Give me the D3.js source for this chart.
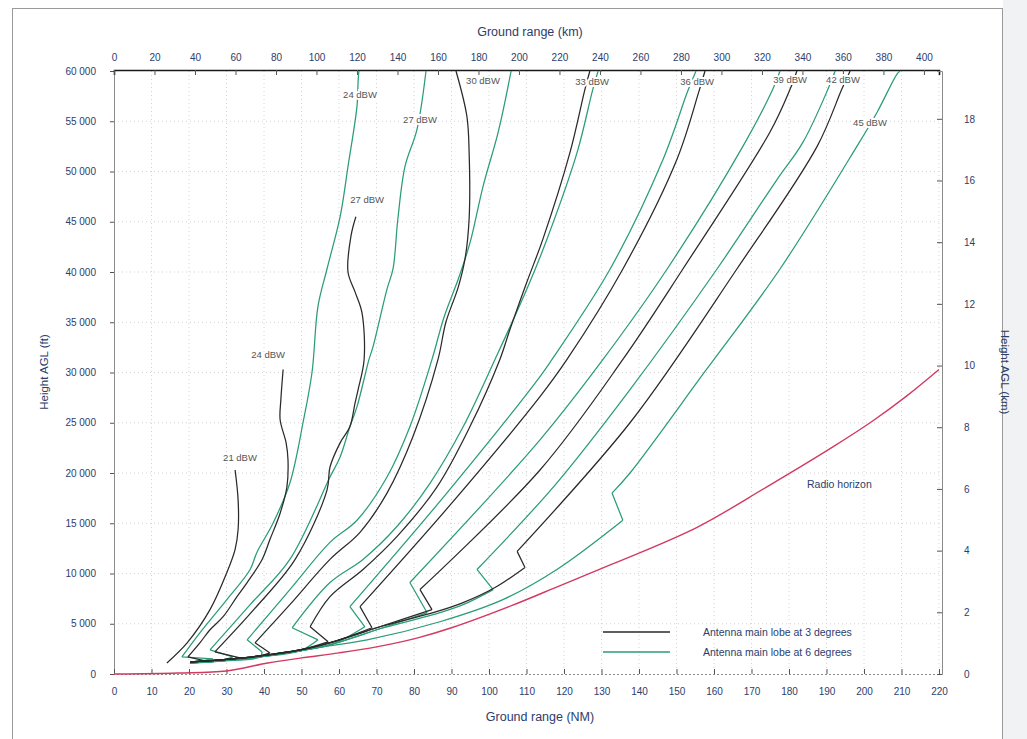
<!DOCTYPE html>
<html>
<head>
<meta charset="utf-8">
<script src="https://cdn.jsdelivr.net/npm/d3@7"></script>
<style>
  body { margin: 0; background: #fff; }
  text { font-family: "Liberation Sans", Arial, sans-serif; }
</style>
</head>
<body>
<svg id="chart" width="1027" height="739"></svg>
<script>
// values are [ground range NM, height in thousands of ft]
const heightTicks = d3.range(0, 61, 5);
const nmTicks = d3.range(0, 221, 10);
const kmTicks = d3.range(0, 401, 20);
const kmHeightTicks = d3.range(0, 19, 2);

const radioHorizon = [[0, 0], [17, 0.1], [30, 0.3], [41, 1.1], [50, 1.6], [60, 2.1], [70, 2.7], [81, 3.6],
  [90, 4.6], [106, 6.8], [119, 8.8], [132, 10.8], [155.5, 14.6], [174, 18.6], [191.7, 22.6],
  [202.4, 25.2], [211.5, 27.7], [220, 30.3]];

// common low-altitude branch shared by the curves
const lowerBlack = [[20.3, 1.2], [28.3, 1.4], [38.9, 1.8], [49.6, 2.4], [58.4, 3.2], [70.9, 4.7],
  [85.1, 6.1], [93.1, 7.1], [101.6, 8.6]];
const lowerGreen = [[20.3, 1.1], [28.3, 1.3], [38.9, 1.7], [49.6, 2.3], [58.4, 3.0], [70.9, 4.5],
  [85.1, 5.9], [93.1, 6.9]];

// 3 degree lobe (black): first point = bottom of the kink, second = top of the kink
const b21 = [[14.1, 1.1], [19.5, 3.1], [25.6, 6.4], [30.1, 10.1], [32.3, 12.4], [33.1, 14.4], [33.1, 17.3], [32.3, 20.3]];
const b24 = [[24.3, 1.3], [19.7, 1.7], [22.9, 3.1], [25.6, 4.4], [29.1, 5.7], [32.8, 7.7], [35.5, 9.1], [39.5, 11.4],
  [41.6, 13.4], [44.3, 16], [46.1, 18.6], [46.4, 21.3], [45.9, 23], [44.3, 25.3], [44.5, 27.3], [45.1, 30.3]];
const b27 = [[33.6, 1.6], [26.9, 2.2], [37.5, 6.5], [48.3, 11.4], [56.8, 18.3], [57.6, 20.6], [60.3, 23], [62.9, 24.6],
  [64.3, 27], [65.1, 28.3], [66.7, 31.3], [66.1, 36], [64.3, 38], [62.4, 40], [63.2, 43.6], [64.5, 45.5]];
const b30 = [[41.6, 2.1], [37.6, 3.1], [46.9, 6.9], [57.6, 11.4], [65.6, 14.1], [72.8, 18], [79.7, 23.6], [86.4, 31.3],
  [88.5, 35], [91.8, 38.5], [93.6, 41.3], [94.7, 45.3], [94.7, 51.9], [94.1, 55.5], [91.2, 60]];
const b33 = [[57.1, 3.2], [52.3, 4.7], [57.6, 7.7], [66.4, 10.4], [75.5, 13.7], [86.1, 18.6], [94.9, 24.6], [102.9, 31.3],
  [105.6, 34.3], [110.1, 39], [114.4, 43.3], [121.6, 51.9], [125.6, 58.2], [126.9, 60]];
const b36 = [[68.8, 4.6], [65.6, 6.7], [89.6, 16.8], [113.6, 27.6], [120.8, 31.3], [135.7, 40.3],
  [150.1, 51.2], [156, 58], [157.6, 60]];
const b39 = [[84.8, 6.4], [81.6, 8.4], [113.6, 20.3], [135.7, 31.3], [151.7, 40.3],
  [174.9, 53.9], [180.3, 58.2], [182.1, 60]];
const b42 = [[109.6, 10.6], [107.5, 12.2], [137.6, 25], [166.1, 40.3], [187.5, 52.5],
  [194.1, 58.2], [196.3, 60]];

// 6 degree lobe (green)
const g24 = [[26.4, 1.5], [18.1, 1.7], [22.9, 4.1], [30.1, 7.4], [36.3, 10.4], [38.1, 12.1], [42.4, 15], [46.9, 19],
  [50.4, 25], [52.8, 30], [54.4, 36.6], [56.8, 40.3], [60.3, 45.5], [62.4, 50.5], [64.8, 56.5],
  [65.1, 59], [65.3, 60]];
const g27 = [[31.7, 1.7], [25.6, 2.4], [36.3, 6.9], [46.9, 11.4], [57.6, 19.6], [60.3, 21.6], [62.9, 24.6], [64.8, 26.6],
  [68, 31.3], [69.1, 32.6], [72.8, 38.3], [74.4, 40.3], [75.7, 45.3], [77.6, 50.5], [80.8, 54.2], [83.2, 60]];
const g30 = [[39.5, 2.2], [35.5, 3.4], [46.9, 8.4], [57.6, 13.1], [64.8, 15.3], [72.8, 19.6], [78.9, 24.6], [84.8, 31.3],
  [88, 35.5], [92, 39.5], [95, 43], [98.4, 48.5], [102.5, 54], [105.9, 60]];
const g33 = [[54.4, 3.4], [47.5, 4.6], [57.6, 9.1], [66.4, 11.4], [75.5, 14.7], [84.3, 19], [93.1, 24.6], [101.6, 31.3],
  [110.1, 38.3], [115.5, 43.3], [123.5, 51.9], [127.7, 58.2], [129.1, 60]];
const g36 = [[66.9, 4.7], [62.9, 6.7], [88.3, 17.8], [113.6, 29.6], [116.8, 31.3], [132.3, 40.3],
  [146.4, 51.2], [153, 58], [155.2, 60]];
const g39 = [[83.5, 6.1], [78.9, 9.1], [113.6, 23.3], [130.4, 31.3], [147.5, 40.3],
  [167.7, 52.5], [175.7, 58.2], [177.6, 60]];
const g42 = [[101.1, 8.4], [96.8, 10.4], [117.6, 18.8], [137.6, 28.3], [160.8, 40.3], [176.8, 49.2],
  [183.7, 52.9], [190.4, 58.2], [192.3, 60]];
const g45 = [[20.3, 1.1], [31.7, 1.4], [49.6, 2.4], [67.5, 3.4], [86.9, 5.2], [103.7, 7.4], [118.1, 10.4], [135.7, 15.3],
  [132.8, 18], [137.6, 20], [157.6, 30.1], [177.6, 40.3], [198.1, 52.5], [203.5, 55.9],
  [208.8, 59.7], [209.6, 60]];

// [low branch, points, index of the kink bottom in points (-1 = no kink)]
const blackSeries = [[null, b21, -1], [lowerBlack, b24, 0], [lowerBlack, b27, 0], [lowerBlack, b30, 0],
  [lowerBlack, b33, 0], [lowerBlack, b36, 0], [lowerBlack, b39, 0], [lowerBlack, b42, 0]];
const greenSeries = [[lowerGreen, g24, 0], [lowerGreen, g27, 0], [lowerGreen, g30, 0], [lowerGreen, g33, 0],
  [lowerGreen, g36, 0], [lowerGreen, g39, 0], [lowerGreen, g42, 0], [null, g45, 7]];

const curveLabels = [
  {t: "21 dBW", nm: 33.6, h: 21.5}, {t: "24 dBW", nm: 41.1, h: 31.8}, {t: "24 dBW", nm: 65.6, h: 57.7},
  {t: "27 dBW", nm: 67.5, h: 47.2}, {t: "27 dBW", nm: 81.6, h: 55.2}, {t: "30 dBW", nm: 98.4, h: 59.1},
  {t: "33 dBW", nm: 127.5, h: 59}, {t: "36 dBW", nm: 155.5, h: 59}, {t: "39 dBW", nm: 180.3, h: 59.2},
  {t: "42 dBW", nm: 194.4, h: 59.2}, {t: "45 dBW", nm: 201.6, h: 54.9}
];

const svg = d3.select("#chart");
const navy = "#2c3d6c";
const blackCol = "#2a2a2a", greenCol = "#2a9c78", redCol = "#d23a62";

// frame of the page
svg.append("rect").attr("x", 1003).attr("y", 0).attr("width", 24).attr("height", 739).attr("fill", "#f1f2f3");
svg.append("rect").attr("x", 12.5).attr("y", 8.5).attr("width", 990).attr("height", 740)
  .attr("fill", "none").attr("stroke", "#9a9a9a").attr("stroke-width", 1);

const x = d3.scaleLinear().domain([0, 220]).range([114, 939]);
const xKm = d3.scaleLinear().domain([0, 220 * 1.852]).range([114, 939]);
const y = d3.scaleLinear().domain([0, 60]).range([674, 71]);
const yKm = d3.scaleLinear().domain([0, 19.55]).range([674, 71]);

// grid
const grid = svg.append("g").attr("stroke", "#d4d4d4").attr("stroke-dasharray", "1,3").attr("stroke-width", 1);
grid.selectAll(".hg").data(heightTicks.slice(1, -1)).enter().append("line")
  .attr("x1", 114).attr("x2", 942).attr("y1", d => y(d)).attr("y2", d => y(d));
grid.selectAll(".vg").data(nmTicks.slice(1)).enter().append("line")
  .attr("y1", 71).attr("y2", 674).attr("x1", d => x(d)).attr("x2", d => x(d));

const fmt = v => d3.format(",")(v).replace(/,/g, " ");

const axisL = svg.append("g").attr("transform", "translate(114,0)")
  .call(d3.axisLeft(y).tickValues(heightTicks).tickSize(4).tickPadding(14).tickFormat(v => fmt(v * 1000)));
const axisB = svg.append("g").attr("transform", "translate(0,674)")
  .call(d3.axisBottom(x).tickValues(nmTicks).tickSize(-5).tickPadding(14));
const axisT = svg.append("g").attr("transform", "translate(0,70)")
  .call(d3.axisTop(xKm).tickValues(kmTicks).tickSize(-5).tickPadding(9));
const axisR = svg.append("g").attr("transform", "translate(942,0)")
  .call(d3.axisRight(yKm).tickValues(kmHeightTicks).tickSize(-5).tickPadding(22));

[axisL, axisB, axisT, axisR].forEach(g => {
  g.selectAll("text").attr("fill", navy).style("font-size", "10px").style("font-family", "'Liberation Sans', Arial, sans-serif");
  g.selectAll(".tick line").attr("stroke", "#555");
  g.select(".domain").attr("stroke", "#8a8a8a");
});
axisB.select(".domain").attr("stroke-dasharray", "2,2");
axisT.select(".domain").attr("stroke", "#1a1a1a").attr("stroke-width", 1.6);

// titles
svg.append("text").attr("x", 530).attr("y", 36).attr("text-anchor", "middle")
  .attr("fill", navy).style("font-size", "12.5px").text("Ground range (km)");
svg.append("text").attr("x", 540).attr("y", 721).attr("text-anchor", "middle")
  .attr("fill", navy).style("font-size", "12.5px").text("Ground range (NM)");
svg.append("text").attr("transform", "translate(48,372) rotate(-90)").attr("text-anchor", "middle")
  .attr("fill", navy).style("font-size", "11.5px").text("Height AGL (ft)");
svg.append("text").attr("transform", "translate(1001,372) rotate(90)").attr("text-anchor", "middle")
  .attr("fill", navy).style("font-size", "11.5px").text("Height AGL (km)");

const straight = d3.line().x(d => x(d[0])).y(d => y(d[1]));
const smooth = d3.line().curve(d3.curveCatmullRom.alpha(0.5)).x(d => x(d[0])).y(d => y(d[1]));

// smooth branches, straight kink between them
function curvePath(s) {
  const [lower, pts, k] = s;
  const low = lower ? lower.filter(p => p[0] < pts[0][0] - 0.5) : [];
  const all = low.concat(pts);
  if (k < 0) return smooth(all);
  const h = low.length + k;
  return smooth(all.slice(0, h + 1)) + straight(all.slice(h, h + 2)) + smooth(all.slice(h + 1));
}

svg.append("path").datum(radioHorizon).attr("d", smooth)
  .attr("fill", "none").attr("stroke", redCol).attr("stroke-width", 1.4);

const curves = svg.append("g").attr("fill", "none").attr("stroke-width", 1.25).attr("stroke-linejoin", "round");
curves.selectAll(".g").data(greenSeries).enter().append("path")
  .attr("d", curvePath).attr("stroke", greenCol);
curves.selectAll(".b").data(blackSeries).enter().append("path")
  .attr("d", curvePath).attr("stroke", blackCol);

// curve labels (white halo cuts the lines like the original)
svg.selectAll(".lbl").data(curveLabels).enter().append("text")
  .attr("x", d => x(d.nm)).attr("y", d => y(d.h) + 3.5).attr("text-anchor", "middle")
  .attr("fill", "#555").attr("stroke", "#fff").attr("stroke-width", 4).attr("paint-order", "stroke")
  .style("font-size", "9.5px").text(d => d.t);

svg.append("text").attr("x", x(184.8)).attr("y", y(18.5)).attr("fill", navy)
  .style("font-size", "10.5px").text("Radio horizon");

// legend
const legend = svg.append("g").attr("transform", "translate(603,632)");
[["Antenna main lobe at 3 degrees", blackCol], ["Antenna main lobe at 6 degrees", greenCol]].forEach((d, i) => {
  legend.append("line").attr("x1", 0).attr("x2", 67).attr("y1", i * 20).attr("y2", i * 20)
    .attr("stroke", d[1]).attr("stroke-width", 1.6);
  legend.append("text").attr("x", 100).attr("y", i * 20 + 4).attr("fill", navy)
    .style("font-size", "10.5px").text(d[0]);
});
</script>
</body>
</html>
